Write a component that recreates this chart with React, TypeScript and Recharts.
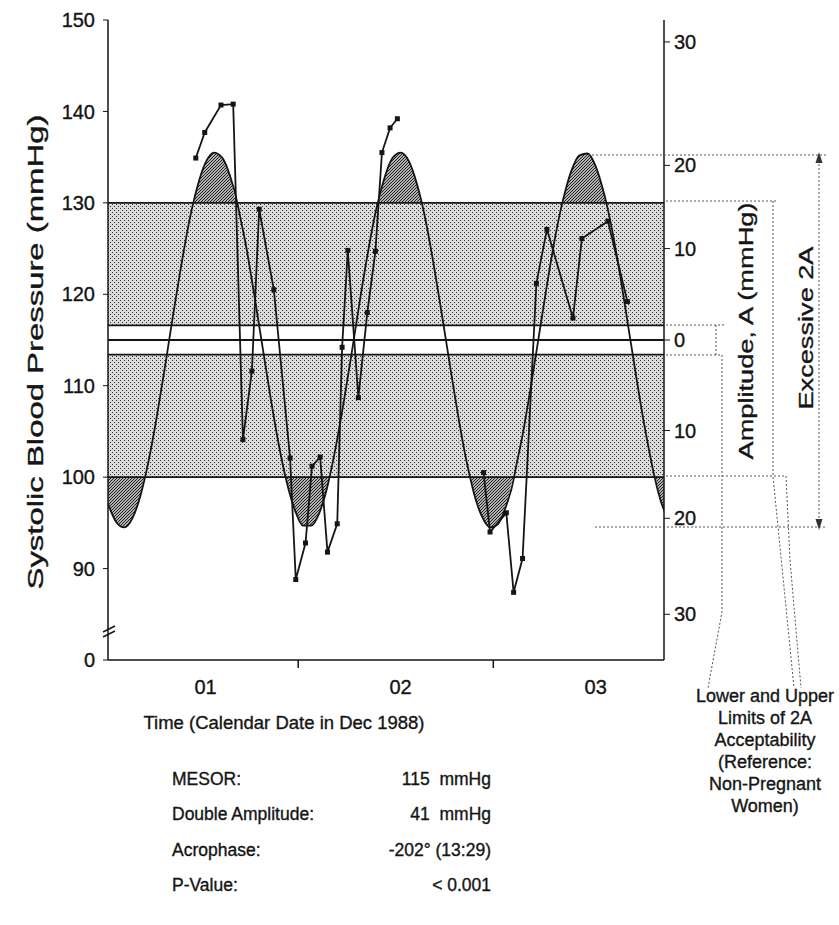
import React from 'react';
import { ComposedChart, Line, Area, XAxis, YAxis } from 'recharts';

// Fitted cosine curve (hours from 00:00 on Dec 1)
const curveHours = [0, 1, 2, 3, 4, 4.56, 5, 6, 7, 8, 9, 10, 10.49, 11, 12, 13, 14, 15, 15.91, 16, 17, 18, 19, 20, 21, 21.84, 22, 23, 24, 25, 26, 27, 27.26, 28, 29, 30, 31, 32, 33, 33.19, 34, 35, 36, 37, 38, 38.61, 39, 40, 41, 42, 43, 44, 44.54, 45, 46, 47, 48, 49, 49.96, 50, 51, 52, 53, 54, 55, 55.89, 56, 57, 58, 59, 60, 61, 61.31, 62, 63, 64, 65, 66, 67, 67.24, 68, 69];
const curveBP = [97.1, 95.1, 94.5, 95.5, 98.0, 100, 101.8, 106.6, 112.0, 117.7, 123.1, 128.0, 130, 131.8, 134.4, 135.5, 135.0, 133.0, 130, 129.6, 125.2, 119.9, 114.3, 108.7, 103.6, 100, 99.4, 96.4, 94.7, 94.7, 96.1, 99.0, 100, 103.2, 108.2, 113.7, 119.4, 124.7, 129.3, 130, 132.7, 134.9, 135.5, 134.6, 132.1, 130, 128.4, 123.6, 118.2, 112.6, 107.1, 102.2, 100, 98.3, 95.7, 94.5, 94.9, 96.9, 100, 100.2, 104.6, 109.8, 115.4, 121.0, 126.2, 130, 130.4, 133.5, 135.2, 135.4, 134.0, 131.1, 130, 127.1, 122.1, 116.5, 110.9, 105.6, 101.0, 100, 97.4, 95.2];

// Measured systolic blood pressure, two connected runs
const run1Hours = [10.8, 11.9, 13.9, 15.4, 16.6, 17.7, 18.6, 20.4, 22.4, 23.1, 24.3, 25.1, 26.1, 27.0, 28.2, 28.8, 29.5, 30.8, 31.9, 32.9, 33.7, 34.7, 35.6];
const run1BP = [134.9, 137.7, 140.7, 140.8, 104.1, 111.6, 129.3, 120.5, 102.1, 88.8, 92.8, 101.2, 102.2, 91.8, 94.9, 114.2, 124.8, 108.7, 118.0, 124.7, 135.5, 138.2, 139.2];
const run2Hours = [46.2, 47.0, 49.0, 49.9, 51.0, 52.7, 54.0, 57.2, 58.3, 61.5, 63.9];
const run2BP = [100.5, 94.0, 96.1, 87.4, 91.1, 121.2, 127.1, 117.4, 126.1, 128.0, 119.2];

const timeDomain = [0, 68.4];
const acceptLower = [100, 113.4];
const acceptUpper = [116.6, 130];
const refLevels = [130, 116.6, 115, 113.4, 100];
const refWidths = [1.6, 1.6, 2.2, 1.6, 1.6];

const dayTickHours = [12, 36, 60];
const dayTickLabels = ['01', '02', '03'];
const midnightHours = [23.4, 47.4];
const bpTicks = [80, 90, 100, 110, 120, 130, 140, 150];
const bpTickLabels = ['0', '90', '100', '110', '120', '130', '140', '150'];
const ampTickValues = [85, 95.5, 105.1, 115, 125, 134.1, 147.6];
const ampTickLabels = ['30', '20', '10', '0', '10', '20', '30'];

const statNames = ['MESOR:', 'Double Amplitude:', 'Acrophase:', 'P-Value:'];
const statValues = ['115  mmHg', '41  mmHg', '-202\u00b0 (13:29)', '< 0.001'];
const noteLines = ['Lower and Upper', 'Limits of 2A', 'Acceptability', '(Reference:', 'Non-Pregnant', 'Women)'];

const curveData = curveHours.map((t, i) => ({ t, v: curveBP[i] }));
const run1 = run1Hours.map((t, i) => ({ t, v: run1BP[i] }));
const run2 = run2Hours.map((t, i) => ({ t, v: run2BP[i] }));
const bandData = timeDomain.map((t) => ({ t, lower: acceptLower, upper: acceptUpper }));
const levelData = (y: number) => timeDomain.map((t) => ({ t, y }));
const xTicks = [...dayTickHours, ...midnightHours].sort((a, b) => a - b);

const FONT = '"Liberation Sans", Arial, Helvetica, sans-serif';
const INK = '#151515';
const TXT_STROKE = 0.35;

const XTick = (props: any) => {
  const { x, y, payload } = props;
  const idx = dayTickHours.indexOf(payload.value);
  if (idx >= 0) {
    return (
      <text x={x} y={y + 34} textAnchor="middle" fontSize={20} fontFamily={FONT} fill={INK} stroke={INK} strokeWidth={TXT_STROKE}>
        {dayTickLabels[idx]}
      </text>
    );
  }
  return <line x1={x} x2={x} y1={y} y2={y + 8} stroke={INK} strokeWidth={1.5} />;
};

const square = (props: any) => {
  const { cx, cy, index } = props;
  if (cx == null || cy == null) return <g key={`n${index}`} />;
  return <rect key={`s${index}`} x={cx - 2.5} y={cy - 2.5} width={5} height={5} fill={INK} />;
};

export default function App() {
  return (
    <div style={{ position: 'absolute', left: 0, top: 0, width: 839, height: 925, background: '#fff' }}>
      <ComposedChart width={839} height={700} margin={{ top: 20, right: 0, bottom: 0, left: 0 }}>
        <defs>
          <pattern id="stip" width="4" height="4" patternUnits="userSpaceOnUse">
            <rect width="4" height="4" fill="#dadada" />
            <rect x="0" y="0" width="1" height="1" fill="#333" />
            <rect x="2" y="2" width="1" height="1" fill="#333" />
          </pattern>
          <pattern id="dense" width="3" height="3" patternUnits="userSpaceOnUse">
            <rect width="3" height="3" fill="#b0b0b0" />
            <rect x="0" y="0" width="1" height="1" fill="#222" />
            <rect x="1" y="2" width="1" height="1" fill="#222" />
            <rect x="2" y="1" width="1" height="1" fill="#222" />
          </pattern>
        </defs>
        <XAxis
          dataKey="t"
          type="number"
          domain={timeDomain}
          allowDataOverflow
          ticks={xTicks}
          interval={0}
          tick={<XTick />}
          tickLine={false}
          tickSize={0}
          tickMargin={0}
          height={40}
          axisLine={{ stroke: INK, strokeWidth: 1.5 }}
        />
        <XAxis
          xAxisId="top"
          orientation="top"
          dataKey="t"
          type="number"
          domain={timeDomain}
          allowDataOverflow
          tick={false}
          tickLine={false}
          height={0}
          axisLine={{ stroke: INK, strokeWidth: 1.5 }}
        />
        <YAxis
          type="number"
          domain={[80, 150]}
          allowDataOverflow
          ticks={bpTicks}
          interval={0}
          tickFormatter={(v: number) => bpTickLabels[bpTicks.indexOf(v)]}
          width={108}
          tickSize={5}
          tickMargin={8}
          tickLine={{ stroke: INK }}
          axisLine={{ stroke: INK, strokeWidth: 1.5 }}
          tick={{ fontSize: 20, fill: INK, fontFamily: FONT, stroke: INK, strokeWidth: TXT_STROKE }}
        />
        <YAxis
          yAxisId="right"
          orientation="right"
          type="number"
          domain={[80, 150]}
          allowDataOverflow
          ticks={ampTickValues}
          interval={0}
          tickFormatter={(v: number) => ampTickLabels[ampTickValues.indexOf(v)]}
          width={175}
          tickSize={6}
          tickMargin={4}
          tickLine={{ stroke: INK }}
          axisLine={{ stroke: INK, strokeWidth: 1.5 }}
          tick={{ fontSize: 20, fill: INK, fontFamily: FONT, stroke: INK, strokeWidth: TXT_STROKE }}
        />
        <Area data={bandData} dataKey="upper" type="linear" stroke="none" fill="url(#stip)" fillOpacity={1} isAnimationActive={false} />
        <Area data={bandData} dataKey="lower" type="linear" stroke="none" fill="url(#stip)" fillOpacity={1} isAnimationActive={false} />
        <Area
          data={curveData}
          dataKey={(d: any) => [acceptUpper[1], Math.max(d.v, acceptUpper[1])]}
          type="monotone"
          stroke="none"
          fill="url(#dense)"
          fillOpacity={1}
          isAnimationActive={false}
        />
        <Area
          data={curveData}
          dataKey={(d: any) => [Math.min(d.v, acceptLower[0]), acceptLower[0]]}
          type="monotone"
          stroke="none"
          fill="url(#dense)"
          fillOpacity={1}
          isAnimationActive={false}
        />
        {refLevels.map((lv, i) => (
          <Line
            key={`lv${i}`}
            data={levelData(lv)}
            dataKey="y"
            type="linear"
            stroke={INK}
            strokeWidth={refWidths[i]}
            dot={false}
            isAnimationActive={false}
          />
        ))}
        <Line data={curveData} dataKey="v" type="monotone" stroke={INK} strokeWidth={1.8} dot={false} isAnimationActive={false} />
        <Line data={run1} dataKey="v" type="linear" stroke={INK} strokeWidth={1.8} dot={square} isAnimationActive={false} />
        <Line data={run2} dataKey="v" type="linear" stroke={INK} strokeWidth={1.8} dot={square} isAnimationActive={false} />
      </ComposedChart>

      <svg width={839} height={925} style={{ position: 'absolute', left: 0, top: 0, pointerEvents: 'none' }}>
        <g fontFamily={FONT} fill={INK} stroke={INK} strokeWidth={TXT_STROKE}>
          <text transform="translate(43,352) rotate(-90)" textAnchor="middle" fontSize={22} textLength={475} lengthAdjust="spacingAndGlyphs">
            Systolic Blood Pressure (mmHg)
          </text>
          <text transform="translate(753,331) rotate(-90)" textAnchor="middle" fontSize={21} textLength={257} lengthAdjust="spacingAndGlyphs">
            Amplitude, A (mmHg)
          </text>
          <text transform="translate(813,328) rotate(-90)" textAnchor="middle" fontSize={21} textLength={163} lengthAdjust="spacingAndGlyphs">
            Excessive 2A
          </text>
          <text x={284} y={729} textAnchor="middle" fontSize={18.5}>
            Time (Calendar Date in Dec 1988)
          </text>
          {statNames.map((s, i) => (
            <text key={`sn${i}`} x={172} y={785 + i * 35.3} fontSize={17.5}>
              {s}
            </text>
          ))}
          {statValues.map((s, i) => (
            <text key={`sv${i}`} x={491} y={785 + i * 35.3} fontSize={17.5} textAnchor="end" style={{ whiteSpace: 'pre' }}>
              {s}
            </text>
          ))}
          {noteLines.map((s, i) => (
            <text key={`nl${i}`} x={765} y={702 + i * 22} fontSize={18} textAnchor="middle">
              {s}
            </text>
          ))}
        </g>
        <g stroke="#555" strokeWidth={1} strokeDasharray="2 2" fill="none">
          <line x1={588} y1={155} x2={826} y2={155} />
          <line x1={595} y1={527} x2={826} y2={527} />
          <line x1={819} y1={160} x2={819} y2={522} />
          <line x1={666} y1={201} x2={778} y2={201} />
          <line x1={666} y1={476} x2={786} y2={476} />
          <line x1={666} y1={325} x2={726} y2={325} />
          <line x1={666} y1={355} x2={720} y2={355} />
          <line x1={716} y1={325} x2={716} y2={355} />
          <polyline points="722,355 722,612 708,688" />
          <polyline points="773,201 773,476 794,688" />
          <polyline points="786,476 790,560 801,688" />
        </g>
        <polygon points="819,152 815.5,163 822.5,163" fill="#333" />
        <polygon points="819,530 815.5,519 822.5,519" fill="#333" />
        <g stroke={INK} strokeWidth={1.4}>
          <line x1={103} y1={632} x2={115} y2={626} />
          <line x1={103} y1={637} x2={115} y2={631} />
        </g>
      </svg>
    </div>
  );
}
